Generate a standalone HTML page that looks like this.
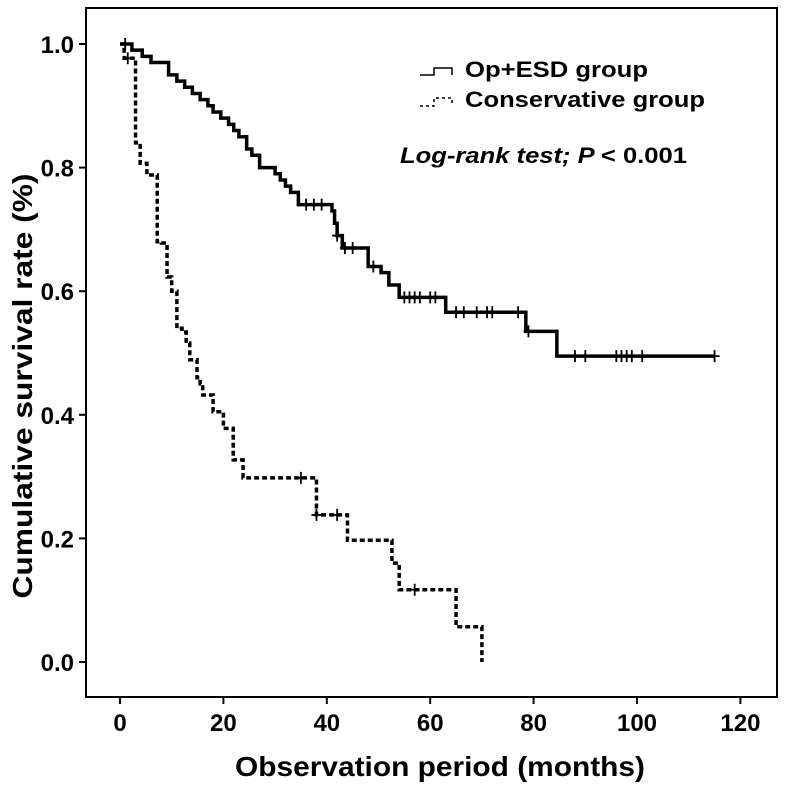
<!DOCTYPE html>
<html><head><meta charset="utf-8"><style>
html,body{margin:0;padding:0;background:#fff;}
svg text{font-family:"Liberation Sans",Arial,sans-serif;font-weight:bold;fill:#000;}
</style></head><body>
<svg id="chart" width="786" height="783" viewBox="0 0 786 783" xmlns="http://www.w3.org/2000/svg">
<rect x="86" y="8" width="691" height="689" fill="none" stroke="#000" stroke-width="2"/>
<g id="axes"></g>
<g id="series"></g>
<text transform="translate(32,386) rotate(-90)" text-anchor="middle" font-size="28" textLength="425" lengthAdjust="spacingAndGlyphs">Cumulative survival rate (%)</text>
<text x="440" y="776" text-anchor="middle" font-size="28" textLength="410" lengthAdjust="spacingAndGlyphs">Observation period (months)</text>
<g>
<path d="M420 75 H434 V68 H452 V75" fill="none" stroke="#000" stroke-width="1.5"/>
<text x="465" y="77" font-size="22" textLength="183" lengthAdjust="spacingAndGlyphs">Op+ESD group</text>
<path d="M420 106 H434 V98 H452 V104" fill="none" stroke="#000" stroke-width="1.5" stroke-dasharray="3,3"/>
<text x="465" y="107" font-size="22" textLength="240" lengthAdjust="spacingAndGlyphs">Conservative group</text>
</g>
<text x="400" y="163" font-size="22" font-style="italic" textLength="287" lengthAdjust="spacingAndGlyphs">Log-rank test; P <tspan font-style="normal">&lt; 0.001</tspan></text>
</svg>
<script>
const xTicks=[0,20,40,60,80,100,120];
const yTicks=[0,0.2,0.4,0.6,0.8,1.0];
const yTickLabels=["0.0","0.2","0.4","0.6","0.8","1.0"];
const opTimes=[0,2.3,4.3,6,9.4,11,12.5,14,15.5,17,18,19.5,21,22,23,24.5,25.5,27,30,31,32,33,34.5,41,41.5,42,43,48,50.5,52,54,63,78.5,84.5];
const opSurv=[1,0.99,0.98,0.97,0.95,0.94,0.93,0.92,0.91,0.90,0.89,0.88,0.87,0.86,0.85,0.83,0.82,0.80,0.79,0.78,0.77,0.76,0.74,0.73,0.71,0.69,0.67,0.64,0.63,0.61,0.59,0.566,0.535,0.495];
const opEnd=115;
const opCensorT=[1,36,37.5,39,42,43.5,45,49,55,56,57,58,60,61,65,66.5,69,71,72,77,79,88,90,96,97,98,99,101,115];
const conTimes=[0,0.8,3,3.9,5.2,7.2,8,9.1,10,11,12,12.8,13.5,14.9,15.5,16,18,20,21.9,23.8,38,44,52.6,54,65,70];
const conSurv=[1,0.977,0.84,0.807,0.788,0.68,0.678,0.623,0.6,0.54,0.534,0.516,0.489,0.46,0.45,0.432,0.405,0.378,0.327,0.298,0.238,0.197,0.16,0.117,0.057,0];
const conEnd=70;
const conCensorT=[1.5,35,38,42,57];

const X0=120,XS=5.17,Y0=662,YS=618;
const sx=t=>X0+XS*t, sy=s=>Y0-YS*s;
const NS="http://www.w3.org/2000/svg";
const axes=document.getElementById('axes'), series=document.getElementById('series');
function mk(tag,attrs,parent){const e=document.createElementNS(NS,tag);for(const k in attrs)e.setAttribute(k,attrs[k]);parent.appendChild(e);return e;}
xTicks.forEach(t=>{
  const l=mk('line',{x1:sx(t),x2:sx(t),y1:697,y2:704,stroke:'#000','stroke-width':2},axes);
  
  
  const tx=mk('text',{x:sx(t),y:731,'text-anchor':'middle','font-size':24},axes);
  tx.textContent=t;
  
  
});
yTicks.forEach((v,i)=>{
  const l=mk('line',{x1:79,x2:86,y1:sy(v),y2:sy(v),stroke:'#000','stroke-width':2},axes);
  
  
  const tx=mk('text',{x:74,y:sy(v)+9,'text-anchor':'end','font-size':24},axes);
  tx.textContent=yTickLabels[i];
  
  
});
function survAt(times,surv,t){let s=surv[0];for(let i=0;i<times.length;i++){if(times[i]<=t)s=surv[i];}return s;}
function drawCurve(times,surv,end,censor,dash,name){
  let d='M'+sx(times[0])+' '+sy(surv[0]);
  for(let i=1;i<times.length;i++){d+=' H'+sx(times[i])+' V'+sy(surv[i]);}
  if(end>times[times.length-1]) d+=' H'+sx(end);
  const p=mk('path',{d:d,fill:'none',stroke:'#000','stroke-width':3.5},series);
  if(dash)p.setAttribute('stroke-dasharray','5,3');
  
  
  censor.forEach(t=>{
    const s=survAt(times,surv,t);
    const c=mk('path',{d:'M'+(sx(t)-5)+' '+sy(s)+' h10 M'+sx(t)+' '+(sy(s)-6)+' v12',stroke:'#000','stroke-width':1.8},series);
    
    
  });
}
drawCurve(opTimes,opSurv,opEnd,opCensorT,false,'op-esd');
drawCurve(conTimes,conSurv,conEnd,conCensorT,true,'conservative');
</script>
</body></html>
